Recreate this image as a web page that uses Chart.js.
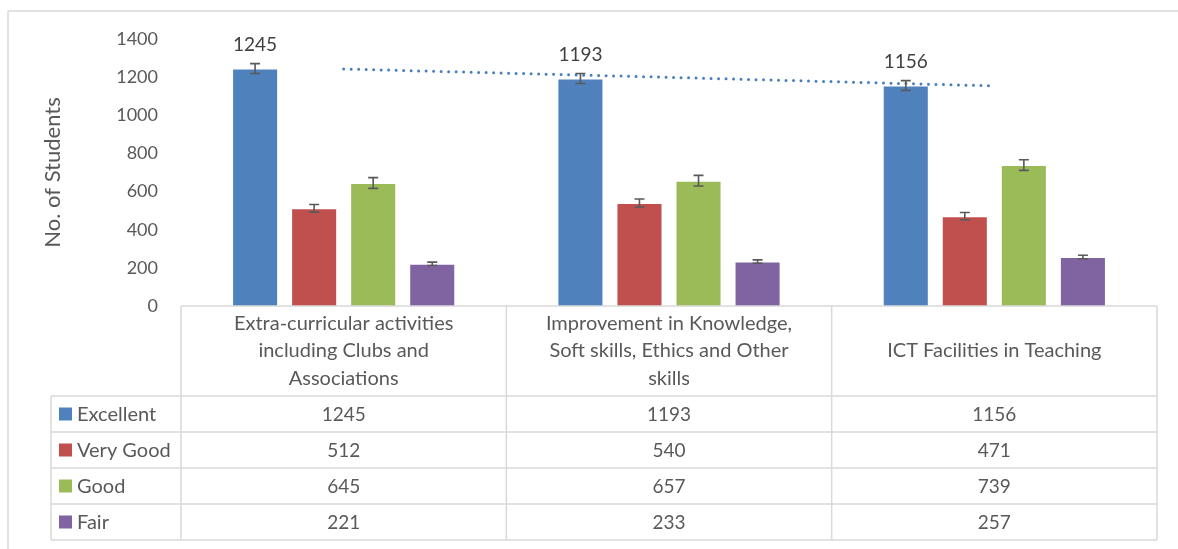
<!DOCTYPE html>
<html>
<head>
<meta charset="utf-8">
<script src="https://cdn.jsdelivr.net/npm/chart.js@4.4.1/dist/chart.umd.min.js"></script>
<style>
  html, body { margin: 0; padding: 0; background: #fff; }
  #wrap { position: relative; width: 1178px; height: 549px; }
</style>
</head>
<body>
<div id="wrap"><canvas id="ratings-chart"></canvas></div>
<script>
const categories = [
  ['Extra-curricular activities', 'including Clubs and', 'Associations'],
  ['Improvement in Knowledge,', 'Soft skills, Ethics and Other', 'skills'],
  ['ICT Facilities in Teaching'],
];
const seriesNames = ['Excellent', 'Very Good', 'Good', 'Fair'];
const excellent = [1245, 1193, 1156];
const veryGood = [512, 540, 471];
const good = [645, 657, 739];
const fair = [221, 233, 257];
// error bar half-widths
const excellentErr = [26, 26, 26];
const veryGoodErr = [20, 21, 19];
const goodErr = [28, 28, 28];
const fairErr = [9, 9, 9];
// dotted trend line for Excellent
const excellentTrend = [1243, 1199, 1154];
const yTicks = [0, 200, 400, 600, 800, 1000, 1200, 1400];

const SERIES_COLORS = ['#4f81bd', '#c0504d', '#9bbb59', '#8064a2'];
const TEXT_COLOR = '#595959';
const GRID_COLOR = '#d9d9d9';
const FONT = 'Lato, "Open Sans", sans-serif';

const seriesValues = [excellent, veryGood, good, fair];
const seriesErrors = [excellentErr, veryGoodErr, goodErr, fairErr];

const TABLE_LEFT = 51;
const HEADER_BOTTOM = 396;
const ROW_HEIGHT = 36;

const errorBarPlugin = {
  id: 'errorBars',
  afterDatasetsDraw(chart) {
    const ctx = chart.ctx;
    const y = chart.scales.y;
    ctx.save();
    ctx.strokeStyle = '#595959';
    ctx.lineWidth = 1.6;
    seriesValues.forEach((values, di) => {
      const meta = chart.getDatasetMeta(di);
      meta.data.forEach((bar, i) => {
        const top = y.getPixelForValue(values[i] + seriesErrors[di][i]);
        const bottom = y.getPixelForValue(values[i] - seriesErrors[di][i]);
        ctx.beginPath();
        ctx.moveTo(bar.x, top);
        ctx.lineTo(bar.x, bottom);
        ctx.moveTo(bar.x - 5, top);
        ctx.lineTo(bar.x + 5, top);
        ctx.moveTo(bar.x - 5, bottom);
        ctx.lineTo(bar.x + 5, bottom);
        ctx.stroke();
      });
    });
    // data labels on the Excellent bars
    ctx.fillStyle = '#404040';
    ctx.font = '19px ' + FONT;
    ctx.textAlign = 'center';
    ctx.textBaseline = 'middle';
    chart.getDatasetMeta(0).data.forEach((bar, i) => {
      ctx.fillText(String(excellent[i]), bar.x, bar.y - 24);
    });
    ctx.restore();
  },
};

const dataTablePlugin = {
  id: 'dataTable',
  afterDraw(chart) {
    const ctx = chart.ctx;
    const x = chart.scales.x;
    const left = chart.chartArea.left;
    const right = chart.chartArea.right;
    const top = chart.chartArea.bottom;
    const colWidth = (right - left) / categories.length;
    const bottom = HEADER_BOTTOM + ROW_HEIGHT * seriesNames.length;

    ctx.save();
    // outer chart border (top and left only visible)
    ctx.strokeStyle = GRID_COLOR;
    ctx.lineWidth = 1.5;
    ctx.beginPath();
    ctx.moveTo(8, 11);
    ctx.lineTo(1178, 11);
    ctx.moveTo(8, 11);
    ctx.lineTo(8, 549);
    ctx.stroke();

    ctx.beginPath();
    ctx.moveTo(left, top);
    ctx.lineTo(right, top);
    for (let r = 0; r <= seriesNames.length; r++) {
      const ry = HEADER_BOTTOM + r * ROW_HEIGHT;
      ctx.moveTo(TABLE_LEFT, ry);
      ctx.lineTo(right, ry);
    }
    ctx.moveTo(TABLE_LEFT, HEADER_BOTTOM);
    ctx.lineTo(TABLE_LEFT, bottom);
    for (let c = 0; c <= categories.length; c++) {
      const cx = left + c * colWidth;
      ctx.moveTo(cx, top);
      ctx.lineTo(cx, bottom);
    }
    ctx.stroke();

    ctx.fillStyle = TEXT_COLOR;
    ctx.font = '20px ' + FONT;
    ctx.textAlign = 'center';
    ctx.textBaseline = 'middle';
    const headerMid = (top + HEADER_BOTTOM) / 2;
    categories.forEach((lines, i) => {
      const cx = x.getPixelForValue(i);
      lines.forEach((line, li) => {
        const ly = headerMid + (li - (lines.length - 1) / 2) * 27.5;
        ctx.fillText(line, cx, ly);
      });
    });

    seriesNames.forEach((name, r) => {
      const rowMid = HEADER_BOTTOM + r * ROW_HEIGHT + ROW_HEIGHT / 2;
      ctx.fillStyle = SERIES_COLORS[r];
      ctx.fillRect(59, rowMid - 6.5, 13, 13);
      ctx.fillStyle = TEXT_COLOR;
      ctx.font = '20px ' + FONT;
      ctx.textAlign = 'left';
      ctx.fillText(name, 77, rowMid + 1);
      ctx.textAlign = 'center';
      ctx.font = '19px ' + FONT;
      seriesValues[r].forEach((v, i) => {
        ctx.fillText(String(v), x.getPixelForValue(i), rowMid + 1);
      });
    });
    ctx.restore();
  },
};

function createDatasets() {
  const bars = seriesNames.map((name, i) => ({
    type: 'bar',
    label: name,
    data: seriesValues[i],
    backgroundColor: SERIES_COLORS[i],
    borderColor: 'rgba(255,255,255,0.35)',
    borderWidth: 1,
    categoryPercentage: 0.726,
    barPercentage: 0.78,
    order: 2,
  }));
  bars.push({
    type: 'line',
    label: 'Linear (Excellent)',
    data: excellentTrend,
    borderColor: '#4a7ebb',
    borderWidth: 3,
    borderDash: [0, 7.5],
    borderCapStyle: 'round',
    pointRadius: 0,
    fill: false,
    tension: 0,
    order: 1,
  });
  return bars;
}

const ctx = document.getElementById('ratings-chart').getContext('2d');
new Chart(ctx, {
  data: {
    labels: categories,
    datasets: createDatasets(),
  },
  options: {
    responsive: true,
    maintainAspectRatio: false,
    animation: false,
    layout: {
      padding: { left: 36, right: 21, top: 39, bottom: 235 },
    },
    plugins: {
      legend: { display: false },
      tooltip: { enabled: false },
    },
    scales: {
      x: {
        grid: { display: false },
        border: { display: false },
        ticks: { display: false },
      },
      y: {
        min: 0,
        max: 1400,
        afterBuildTicks(scale) {
          scale.ticks = yTicks.map((v) => ({ value: v }));
        },
        afterFit(scale) {
          scale.width = 181 - 36;
        },
        grid: { display: false },
        border: { display: false },
        ticks: {
          color: TEXT_COLOR,
          font: { family: FONT, size: 18 },
          padding: 15,
          callback: (value) => String(value),
        },
        title: {
          display: true,
          text: 'No. of Students',
          color: TEXT_COLOR,
          font: { family: FONT, size: 22 },
          padding: { top: 4, bottom: 0 },
        },
      },
    },
  },
  plugins: [errorBarPlugin, dataTablePlugin],
});
</script>
</body>
</html>
